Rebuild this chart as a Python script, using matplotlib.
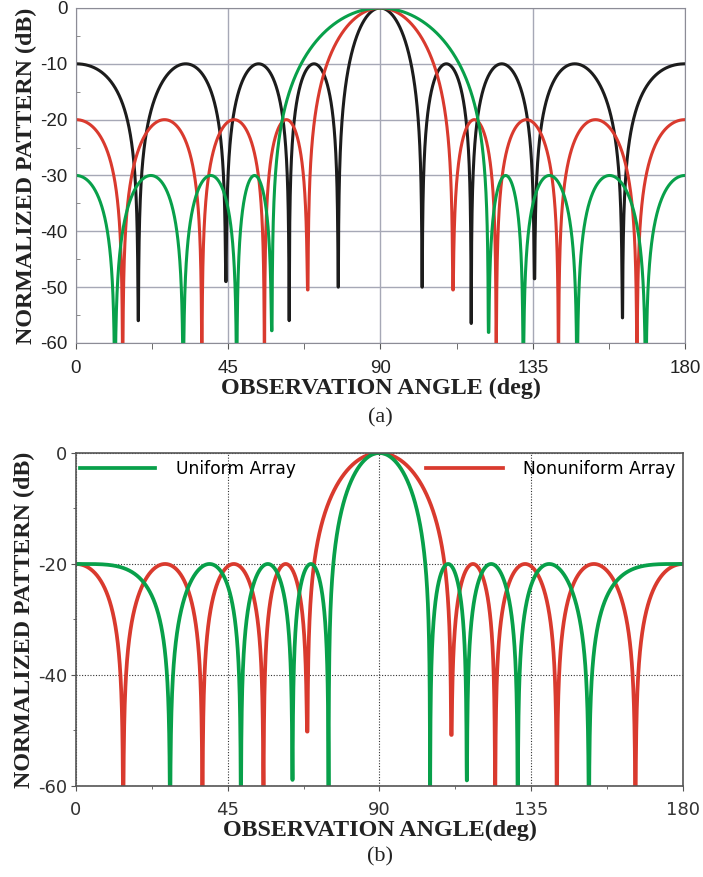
import numpy as np
import matplotlib
matplotlib.use('Agg')
import matplotlib.pyplot as plt
from matplotlib.ticker import MultipleLocator

plt.rcParams['axes.unicode_minus'] = False

# null positions (deg) and null depths (dB), -99 = below the axis
black_nulls = [18.4, 44.3, 63.0, 77.5, 102.3, 116.8, 135.5, 161.5]
black_depths = [-56, -49, -56, -50, -50, -56.5, -48.5, -55.5]
red_nulls = [13.8, 37.2, 55.7, 68.5, 111.4, 124.2, 142.6, 165.8]
red_depths = [-99, -99, -99, -50.5, -50.5, -99, -99, -99]
green_nulls = [11.5, 31.7, 47.5, 57.9, 121.9, 132.2, 148.1, 168.4]
green_depths = [-99, -99, -99, -57.8, -58.1, -99, -99, -99]
top_levels = [-10, -20, -30]      # sidelobe levels of black, red, green

uni_nulls = [27.9, 48.9, 64.2, 74.9, 105.0, 115.9, 131.0, 152.1]
uni_depths = [-99, -99, -58.9, -99, -99, -59.0, -99, -99]
nonuni_nulls = [14.0, 37.5, 55.6, 68.6, 111.3, 124.3, 142.6, 165.9]
nonuni_depths = [-99, -99, -99, -50.2, -50.8, -99, -99, -99]
bottom_levels = [-20, -20]        # uniform, nonuniform

xticks = [0, 45, 90, 135, 180]


def pattern(nulls, depths, level, w):
    # lobe-by-lobe pattern through the read nulls; w warps angle toward cos-space
    theta = np.unique(np.concatenate([np.linspace(0, 180, 12001), nulls]))
    warp = lambda t: (1 - w) * np.asarray(t) + w * 90 * (1 - np.cos(np.radians(t)))
    s = warp(theta)
    sn = warp(nulls)
    edges = np.concatenate([[-sn[0]], sn, [360 - sn[-1]]])
    db = np.full_like(theta, -99.0)
    for k in range(len(edges) - 1):
        a, b = edges[k], edges[k + 1]
        m = (s >= a) & (s <= b)
        if a < 90 < b:
            x = (s[m] - (a + b) / 2) / ((b - a) / 2)
            amp = np.abs(np.sinc(x))
            peak = 0.0
        else:
            amp = np.abs(np.sin(np.pi * (s[m] - a) / (b - a)))
            peak = level
        db[m] = peak + 20 * np.log10(np.maximum(amp, 1e-6))
    # floor each null at its read depth
    idx = np.abs(s[:, None] - sn[None, :]).argmin(axis=1)
    db = np.maximum(db, np.array(depths)[idx])
    return theta, db


label_font = dict(family='Liberation Serif', weight='bold', fontsize=17.3, color='#222222')

fig = plt.figure(figsize=(7.03, 8.77), dpi=100)

# ---------- (a)
ax1 = fig.add_axes([0.1081, 0.6089, 0.8663, 0.382])
curves = [(black_nulls, black_depths, '#1c1c1c', 0.5),
          (red_nulls, red_depths, '#d93a2e', 0.35),
          (green_nulls, green_depths, '#08a04a', 0.35)]
for (n, d, c, w), lev in zip(curves, top_levels):
    t, p = pattern(n, d, lev, w)
    ax1.plot(t, p, color=c, lw=2.2)
ax1.set_xlim(0, 180)
ax1.set_ylim(-60, 0)
ax1.set_xticks(xticks)
ax1.xaxis.set_minor_locator(MultipleLocator(22.5))
ax1.set_yticks(np.arange(-60, 1, 10))
ax1.yaxis.set_minor_locator(MultipleLocator(5))
ax1.grid(True, color='#a6a8b6', lw=1.0)
for sp in ax1.spines.values():
    sp.set_color('#8c8c96')
ax1.tick_params(axis='x', which='both', direction='out', color='#555555', length=4, labelsize=13.5, pad=8)
ax1.tick_params(axis='y', which='major', length=0, labelsize=13.5, pad=6)
ax1.tick_params(axis='y', which='minor', direction='in', length=3, color='#777777')
for lab in ax1.get_xticklabels() + ax1.get_yticklabels():
    lab.set_fontfamily('Liberation Sans')
    lab.set_color('#222222')
ax1.set_xlabel('OBSERVATION ANGLE (deg)', labelpad=1, **label_font)
ax1.set_ylabel('NORMALIZED PATTERN (dB)', labelpad=2, **label_font)
fig.text(0.5405, 1 - 418 / 877, '(a)', family='Liberation Serif', fontsize=16, ha='center', va='center', color='#222222')

# ---------- (b)
ax2 = fig.add_axes([0.1081, 0.1038, 0.8634, 0.3797])
t, p = pattern(nonuni_nulls, nonuni_depths, bottom_levels[1], 0.35)
l_non, = ax2.plot(t, p, color='#d93a2e', lw=2.7, label='Nonuniform Array')
t, p = pattern(uni_nulls, uni_depths, bottom_levels[0], 1.0)
l_uni, = ax2.plot(t, p, color='#08a04a', lw=2.7, label='Uniform Array')
ax2.set_xlim(0, 180)
ax2.set_ylim(-60, 0)
ax2.set_xticks(xticks)
ax2.xaxis.set_minor_locator(MultipleLocator(22.5))
ax2.set_yticks([-60, -40, -20, 0])
ax2.yaxis.set_minor_locator(MultipleLocator(10))
ax2.grid(True, which='major', color='#333333', lw=0.8, ls=(0, (1, 1.5)))
for sp in ax2.spines.values():
    sp.set_color('#555555')
    sp.set_linewidth(1.2)
ax2.tick_params(which='major', direction='out', length=3.5, color='#555555', labelsize=13)
ax2.tick_params(which='minor', direction='out', length=2.5, color='#555555')
ax2.tick_params(axis='x', pad=7)
ax2.tick_params(axis='y', pad=3)
for lab in ax2.get_xticklabels() + ax2.get_yticklabels():
    lab.set_fontfamily('DejaVu Sans')
    lab.set_color('#333333')
ax2.set_xlabel('OBSERVATION ANGLE(deg)', labelpad=1, **label_font)
ax2.set_ylabel('NORMALIZED PATTERN (dB)', labelpad=2, **label_font)

leg1 = ax2.legend(handles=[l_uni], loc='center left', bbox_to_anchor=(0.0066, 0.952), frameon=False,
                  borderpad=0, borderaxespad=0, handlelength=4.4, handletextpad=1.2,
                  prop={'family': 'DejaVu Sans', 'size': 12.3})
ax2.add_artist(leg1)
ax2.legend(handles=[l_non], loc='center right', bbox_to_anchor=(0.987, 0.952), frameon=False,
           borderpad=0, borderaxespad=0, handlelength=4.5, handletextpad=1.15,
           prop={'family': 'DejaVu Sans', 'size': 12.3})
fig.text(0.5405, 1 - 857 / 877, '(b)', family='Liberation Serif', fontsize=16, ha='center', va='center', color='#222222')

fig.savefig('out.png', dpi=100)
